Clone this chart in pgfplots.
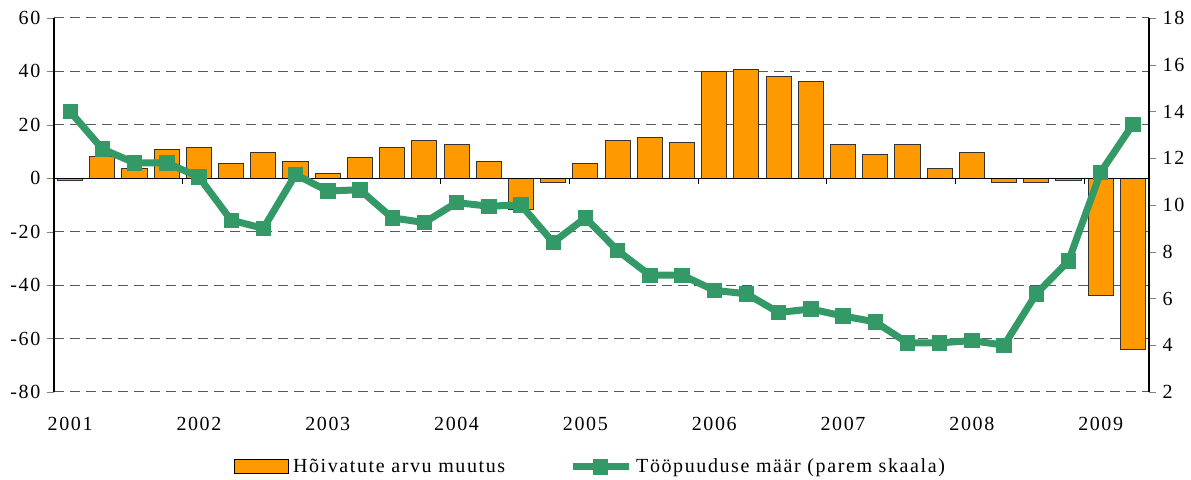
\documentclass[border=0pt]{standalone}
\usepackage{fontspec}
\setmainfont{Liberation Serif}[LetterSpace=8]
\usepackage{pgfplots}
\usepackage{pgfplotstable}
\pgfplotsset{compat=1.18}
\definecolor{barorange}{RGB}{255,153,0}
\definecolor{linegreen}{RGB}{51,153,102}
\pgfplotsset{
  barlegend/.style={legend image code/.code={\draw[fill=barorange, draw=black, line width=0.5pt] (0pt,-3.5pt) rectangle (27pt,3.5pt);}},
  linelegend/.style={legend image code/.code={\draw[##1, mark repeat=2, mark phase=2] plot coordinates {(0pt,0pt) (14pt,0pt) (28pt,0pt)};}},
}

\pgfplotstableread{
x bar rate
0 -1 14.0
1 8 12.4
2 3.5 11.8
3 10.6 11.8
4 11.6 11.2
5 5.4 9.35
6 9.7 9.0
7 6.2 11.3
8 1.9 10.6
9 7.9 10.65
10 11.6 9.45
11 14.2 9.25
12 12.5 10.1
13 6.2 9.95
14 -11.6 10.0
15 -1.6 8.4
16 5.4 9.45
17 14.2 8.05
18 15.1 7.0
19 13.3 7.0
20 40 6.35
21 40.8 6.2
22 38.2 5.4
23 36.4 5.55
24 12.5 5.25
25 9.0 5.0
26 12.5 4.1
27 3.5 4.1
28 9.7 4.2
29 -1.6 4.0
30 -1.6 6.2
31 -0.9 7.6
32 -44 11.4
33 -64 13.45
}\datatable

\begin{document}
\begin{tikzpicture}
\useasboundingbox (-27pt,-44pt) rectangle (568.5pt,196pt);
\begin{axis}[
  at={(0,0)}, anchor=south west,
  scale only axis, width=547.5pt, height=187pt,
  xmin=-0.5, xmax=33.5, ymin=-80, ymax=60,
  ytick={-80,-60,...,60},
  ymajorgrids,
  grid style={gray!70!black, dash pattern=on 5pt off 3pt, line width=0.5pt},
  axis y line*=left, axis x line*=bottom,
  x axis line style={draw=none},
  y axis line style={black, line width=0.6pt},
  xtick={0,4,...,32},
  xticklabels={2001,2002,2003,2004,2005,2006,2007,2008,2009},
  major x tick style={draw=none},
  tick align=outside, major tick length=3.3pt,
  xticklabel style={yshift=-6pt},
  /pgf/number format/assume math mode=true,
  tick label style={font=\normalsize},
]
\addplot[ybar, bar width=0.78, fill=barorange, draw=black!80, line width=0.5pt] table[x=x,y=bar]{\datatable};
\draw[black, line width=0.6pt] (axis cs:-0.5,0) -- (axis cs:33.5,0);
\pgfplotsinvokeforeach{3.5,7.5,11.5,15.5,19.5,23.5,27.5,31.5}{
  \draw[black, line width=0.5pt] (axis cs:#1,0) -- ([yshift=-3pt]axis cs:#1,0);
}
\end{axis}
\begin{axis}[
  at={(0,0)}, anchor=south west,
  scale only axis, width=547.5pt, height=187pt,
  xmin=-0.5, xmax=33.5, ymin=2, ymax=18,
  ytick={2,4,...,18},
  axis y line*=right, axis x line=none,
  y axis line style={black, line width=0.6pt},
  tick align=outside, major tick length=3.3pt,
  /pgf/number format/assume math mode=true,
  legend columns=2,
  legend style={draw=none, at={(axis description cs:0.5,0)}, anchor=center, yshift=-37.5pt, xshift=-5pt,
    font=\normalsize,
    /tikz/every even column/.append style={column sep=30pt}},
]
\addlegendimage{barlegend}
\addlegendentry{Hõivatute arvu muutus}
\addplot[linegreen, line width=3.5pt, mark=square*, mark size=3.6pt,
  mark options={solid, line width=0.4pt, fill=linegreen, draw=linegreen},
  linelegend
] table[x=x,y=rate]{\datatable};
\addlegendentry{Tööpuuduse määr (parem skaala)}
\end{axis}
\end{tikzpicture}
\end{document}
